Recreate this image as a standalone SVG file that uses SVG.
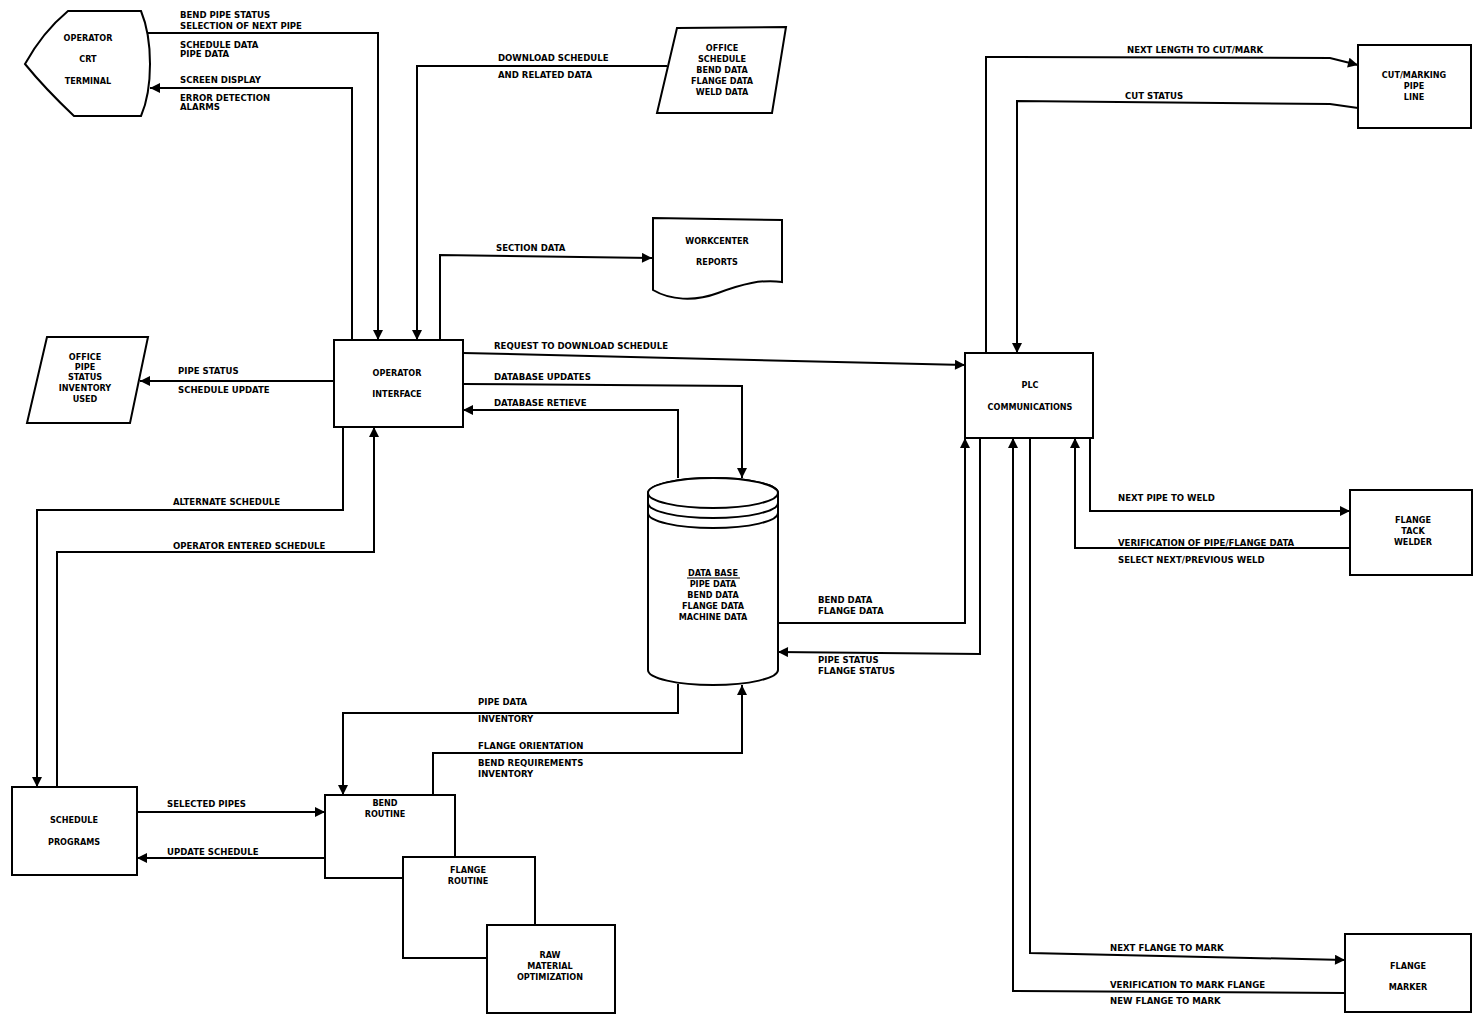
<svg xmlns="http://www.w3.org/2000/svg" width="1474" height="1018" viewBox="0 0 1474 1018">
<defs>
<style>
.n{fill:#fff;stroke:#000;stroke-width:2}
.c{fill:none;stroke:#000;stroke-width:2}
.t{font-family:"DejaVu Sans Condensed","Liberation Sans Narrow","Liberation Sans",sans-serif;font-weight:bold;font-size:9.5px;fill:#000}
.m{text-anchor:middle;font-size:9px}
</style>
<marker id="a" viewBox="0 0 10 10" refX="10" refY="5" markerWidth="11" markerHeight="10" markerUnits="userSpaceOnUse" orient="auto"><path d="M0,0 L10,5 L0,10 z" fill="#000"/></marker>
</defs>
<rect width="1474" height="1018" fill="#fff"/>

<g id="connectors">
<polyline class="c" points="148,33 378,33 378,340" marker-end="url(#a)"/>
<polyline class="c" points="352,340 352,88 150,88" marker-end="url(#a)"/>
<polyline class="c" points="667,66 417,66 417,340" marker-end="url(#a)"/>
<polyline class="c" points="440,340 440,255 652,258" marker-end="url(#a)"/>
<polyline class="c" points="463,353 965,365" marker-end="url(#a)"/>
<polyline class="c" points="463,384 742,386 742,478" marker-end="url(#a)"/>
<polyline class="c" points="678,478 678,410 463,410" marker-end="url(#a)"/>
<polyline class="c" points="334,381 140,381" marker-end="url(#a)"/>
<polyline class="c" points="343,427 343,510 37,510 37,787" marker-end="url(#a)"/>
<polyline class="c" points="57,787 57,552 374,552 374,427" marker-end="url(#a)"/>
<polyline class="c" points="137,812 325,812" marker-end="url(#a)"/>
<polyline class="c" points="325,858 137,858" marker-end="url(#a)"/>
<polyline class="c" points="678,684 678,713 343,713 343,795" marker-end="url(#a)"/>
<polyline class="c" points="433,795 433,753 742,753 742,685" marker-end="url(#a)"/>
<polyline class="c" points="778,623 965,623 965,438" marker-end="url(#a)"/>
<polyline class="c" points="980,438 980,654 778,652" marker-end="url(#a)"/>
<polyline class="c" points="986,353 986,57 1330,58 1358,65" marker-end="url(#a)"/>
<polyline class="c" points="1358,108 1330,104 1017,101 1017,353" marker-end="url(#a)"/>
<polyline class="c" points="1090,438 1090,511 1350,511" marker-end="url(#a)"/>
<polyline class="c" points="1350,548 1075,548 1075,438" marker-end="url(#a)"/>
<polyline class="c" points="1030,438 1030,953 1345,960" marker-end="url(#a)"/>
<polyline class="c" points="1345,993 1013,991 1013,438" marker-end="url(#a)"/>
</g>

<g id="labels">
<text class="t" x="180" y="18">BEND PIPE STATUS</text>
<text class="t" x="180" y="29">SELECTION OF NEXT PIPE</text>
<text class="t" x="180" y="48">SCHEDULE DATA</text>
<text class="t" x="180" y="57">PIPE DATA</text>
<text class="t" x="180" y="83">SCREEN DISPLAY</text>
<text class="t" x="180" y="101">ERROR DETECTION</text>
<text class="t" x="180" y="110">ALARMS</text>
<text class="t" x="498" y="61">DOWNLOAD SCHEDULE</text>
<text class="t" x="498" y="78">AND RELATED DATA</text>
<text class="t" x="496" y="251">SECTION DATA</text>
<text class="t" x="494" y="349">REQUEST TO DOWNLOAD SCHEDULE</text>
<text class="t" x="494" y="380">DATABASE UPDATES</text>
<text class="t" x="494" y="406">DATABASE RETIEVE</text>
<text class="t" x="178" y="374">PIPE STATUS</text>
<text class="t" x="178" y="393">SCHEDULE UPDATE</text>
<text class="t" x="173" y="505">ALTERNATE SCHEDULE</text>
<text class="t" x="173" y="549">OPERATOR ENTERED SCHEDULE</text>
<text class="t" x="167" y="807">SELECTED PIPES</text>
<text class="t" x="167" y="855">UPDATE SCHEDULE</text>
<text class="t" x="478" y="705">PIPE DATA</text>
<text class="t" x="478" y="722">INVENTORY</text>
<text class="t" x="478" y="749">FLANGE ORIENTATION</text>
<text class="t" x="478" y="766">BEND REQUIREMENTS</text>
<text class="t" x="478" y="777">INVENTORY</text>
<text class="t" x="818" y="603">BEND DATA</text>
<text class="t" x="818" y="614">FLANGE DATA</text>
<text class="t" x="818" y="663">PIPE STATUS</text>
<text class="t" x="818" y="674">FLANGE STATUS</text>
<text class="t" x="1127" y="53">NEXT LENGTH TO CUT/MARK</text>
<text class="t" x="1125" y="99">CUT STATUS</text>
<text class="t" x="1118" y="501">NEXT PIPE TO WELD</text>
<text class="t" x="1118" y="546">VERIFICATION OF PIPE/FLANGE DATA</text>
<text class="t" x="1118" y="563">SELECT NEXT/PREVIOUS WELD</text>
<text class="t" x="1110" y="951">NEXT FLANGE TO MARK</text>
<text class="t" x="1110" y="988">VERIFICATION TO MARK FLANGE</text>
<text class="t" x="1110" y="1004">NEW FLANGE TO MARK</text>
</g>

<g id="crt-terminal">
<path class="n" d="M68,11 L141,11 C153,40 153,88 141,116 L74,116 C55,98 38,80 25,64 C36,44 50,26 68,11 Z"/>
<text class="t m" x="88" y="41">OPERATOR</text>
<text class="t m" x="88" y="62">CRT</text>
<text class="t m" x="88" y="84">TERMINAL</text>
</g>

<g id="office-schedule">
<path class="n" d="M677,28 L786,27 L772,113 L657,113 Z"/>
<text class="t m" x="722" y="51">OFFICE</text>
<text class="t m" x="722" y="62">SCHEDULE</text>
<text class="t m" x="722" y="73">BEND DATA</text>
<text class="t m" x="722" y="84">FLANGE DATA</text>
<text class="t m" x="722" y="95">WELD DATA</text>
</g>

<g id="workcenter-reports">
<path class="n" d="M653,218 L782,220 L782,282 C762,279 742,284 718,293 C694,302 670,300 653,290 Z"/>
<text class="t m" x="717" y="244">WORKCENTER</text>
<text class="t m" x="717" y="265">REPORTS</text>
</g>

<g id="operator-interface">
<rect class="n" x="334" y="340" width="129" height="87"/>
<text class="t m" x="397" y="376">OPERATOR</text>
<text class="t m" x="397" y="397">INTERFACE</text>
</g>

<g id="office-pipe-status">
<path class="n" d="M47,337 L148,337 L130,423 L27,423 Z"/>
<text class="t m" x="85" y="360">OFFICE</text>
<text class="t m" x="85" y="370">PIPE</text>
<text class="t m" x="85" y="380">STATUS</text>
<text class="t m" x="85" y="391">INVENTORY</text>
<text class="t m" x="85" y="402">USED</text>
</g>

<g id="database">
<path class="n" d="M648,493 A65,15 0 0 1 778,493 L778,670 A65,15 0 0 1 648,670 Z"/>
<ellipse class="n" cx="713" cy="493" rx="65" ry="15"/>
<path class="c" d="M648,503 A65,15 0 0 0 778,503"/>
<path class="c" d="M648,513 A65,15 0 0 0 778,513"/>
<text class="t m" x="713" y="576">DATA BASE</text>
<line x1="687" y1="578" x2="740" y2="578" stroke="#000" stroke-width="1"/>
<text class="t m" x="713" y="587">PIPE DATA</text>
<text class="t m" x="713" y="598">BEND DATA</text>
<text class="t m" x="713" y="609">FLANGE DATA</text>
<text class="t m" x="713" y="620">MACHINE DATA</text>
</g>

<g id="plc-communications">
<rect class="n" x="965" y="353" width="128" height="85"/>
<text class="t m" x="1030" y="388">PLC</text>
<text class="t m" x="1030" y="410">COMMUNICATIONS</text>
</g>

<g id="cut-marking">
<rect class="n" x="1358" y="45" width="113" height="83"/>
<text class="t m" x="1414" y="78">CUT/MARKING</text>
<text class="t m" x="1414" y="89">PIPE</text>
<text class="t m" x="1414" y="100">LINE</text>
</g>

<g id="flange-tack-welder">
<rect class="n" x="1350" y="490" width="122" height="85"/>
<text class="t m" x="1413" y="523">FLANGE</text>
<text class="t m" x="1413" y="534">TACK</text>
<text class="t m" x="1413" y="545">WELDER</text>
</g>

<g id="flange-marker">
<rect class="n" x="1345" y="934" width="126" height="78"/>
<text class="t m" x="1408" y="969">FLANGE</text>
<text class="t m" x="1408" y="990">MARKER</text>
</g>

<g id="schedule-programs">
<rect class="n" x="12" y="787" width="125" height="88"/>
<text class="t m" x="74" y="823">SCHEDULE</text>
<text class="t m" x="74" y="845">PROGRAMS</text>
</g>

<g id="bend-routine">
<rect class="n" x="325" y="795" width="130" height="83"/>
<text class="t m" x="385" y="806">BEND</text>
<text class="t m" x="385" y="817">ROUTINE</text>
</g>

<g id="flange-routine">
<rect class="n" x="403" y="857" width="132" height="101"/>
<text class="t m" x="468" y="873">FLANGE</text>
<text class="t m" x="468" y="884">ROUTINE</text>
</g>

<g id="raw-material">
<rect class="n" x="487" y="925" width="128" height="88"/>
<text class="t m" x="550" y="958">RAW</text>
<text class="t m" x="550" y="969">MATERIAL</text>
<text class="t m" x="550" y="980">OPTIMIZATION</text>
</g>
</svg>
